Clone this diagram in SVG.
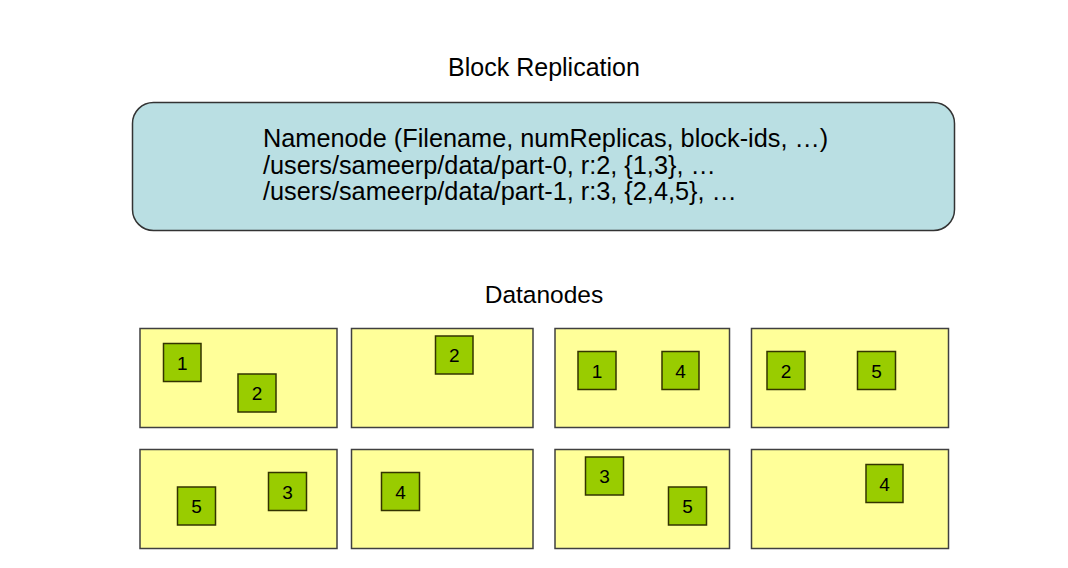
<svg xmlns="http://www.w3.org/2000/svg" width="1068" height="568" viewBox="0 0 1068 568">
<style>
text{font-family:"Liberation Sans",Arial,sans-serif;fill:#000}
.title{font-size:25px;text-anchor:middle}
.nn{font-size:25.3px}
.dn{fill:#FFFF99;stroke:#404040;stroke-width:1.5}
.blk rect{fill:#99CC00;stroke:#333300;stroke-width:1.5}
.blk text{font-size:19px;text-anchor:middle}
</style>
<rect width="1068" height="568" fill="#fff"/>
<text class="title" x="544" y="76">Block Replication</text>
<g id="namenode">
<rect x="132.5" y="102.5" width="822" height="128" rx="21" ry="21" fill="#BADFE3" stroke="#333" stroke-width="1.5"/>
<text class="nn" x="263" y="147">Namenode (Filename, numReplicas, block-ids, …)</text>
<text class="nn" x="263" y="173.5">/users/sameerp/data/part-0, r:2, {1,3}, …</text>
<text class="nn" x="263" y="200">/users/sameerp/data/part-1, r:3, {2,4,5}, …</text>
</g>
<text class="title" x="544" y="303" style="font-size:24.5px">Datanodes</text>
<g id="connectors"></g>
<g id="dn1">
<rect class="dn" x="140" y="328.5" width="197" height="99"/>
<g class="blk"><rect x="163.5" y="343.5" width="37.5" height="38"/><text x="182.2" y="369.5">1</text></g>
<g class="blk"><rect x="238" y="374" width="38" height="38"/><text x="257" y="400">2</text></g>
</g>
<g id="dn2">
<rect class="dn" x="351.5" y="328.5" width="181.5" height="99"/>
<g class="blk"><rect x="435.5" y="336" width="37.5" height="38"/><text x="454.2" y="362">2</text></g>
</g>
<g id="dn3">
<rect class="dn" x="555" y="328.5" width="174.5" height="99"/>
<g class="blk"><rect x="578" y="351.5" width="38" height="38"/><text x="597" y="377.5">1</text></g>
<g class="blk"><rect x="662" y="351.5" width="37" height="38"/><text x="680.5" y="377.5">4</text></g>
</g>
<g id="dn4">
<rect class="dn" x="751.5" y="328.5" width="197" height="99"/>
<g class="blk"><rect x="767" y="351.5" width="38" height="38"/><text x="786" y="377.5">2</text></g>
<g class="blk"><rect x="857.5" y="351.5" width="38" height="38"/><text x="876.5" y="377.5">5</text></g>
</g>
<g id="dn5">
<rect class="dn" x="140" y="449.5" width="197" height="99"/>
<g class="blk"><rect x="177.5" y="487" width="38" height="38"/><text x="196.5" y="513">5</text></g>
<g class="blk"><rect x="268.5" y="472.5" width="38" height="38"/><text x="287.5" y="498.5">3</text></g>
</g>
<g id="dn6">
<rect class="dn" x="351.5" y="449.5" width="181.5" height="99"/>
<g class="blk"><rect x="381.5" y="472.5" width="38" height="38"/><text x="400.5" y="498.5">4</text></g>
</g>
<g id="dn7">
<rect class="dn" x="555" y="449.5" width="174.5" height="99"/>
<g class="blk"><rect x="585.5" y="457" width="38" height="38"/><text x="604.5" y="483">3</text></g>
<g class="blk"><rect x="668.5" y="487" width="38" height="38"/><text x="687.5" y="513">5</text></g>
</g>
<g id="dn8">
<rect class="dn" x="751.5" y="449.5" width="197" height="99"/>
<g class="blk"><rect x="866" y="464.5" width="37" height="38"/><text x="884.5" y="490.5">4</text></g>
</g>
</svg>
